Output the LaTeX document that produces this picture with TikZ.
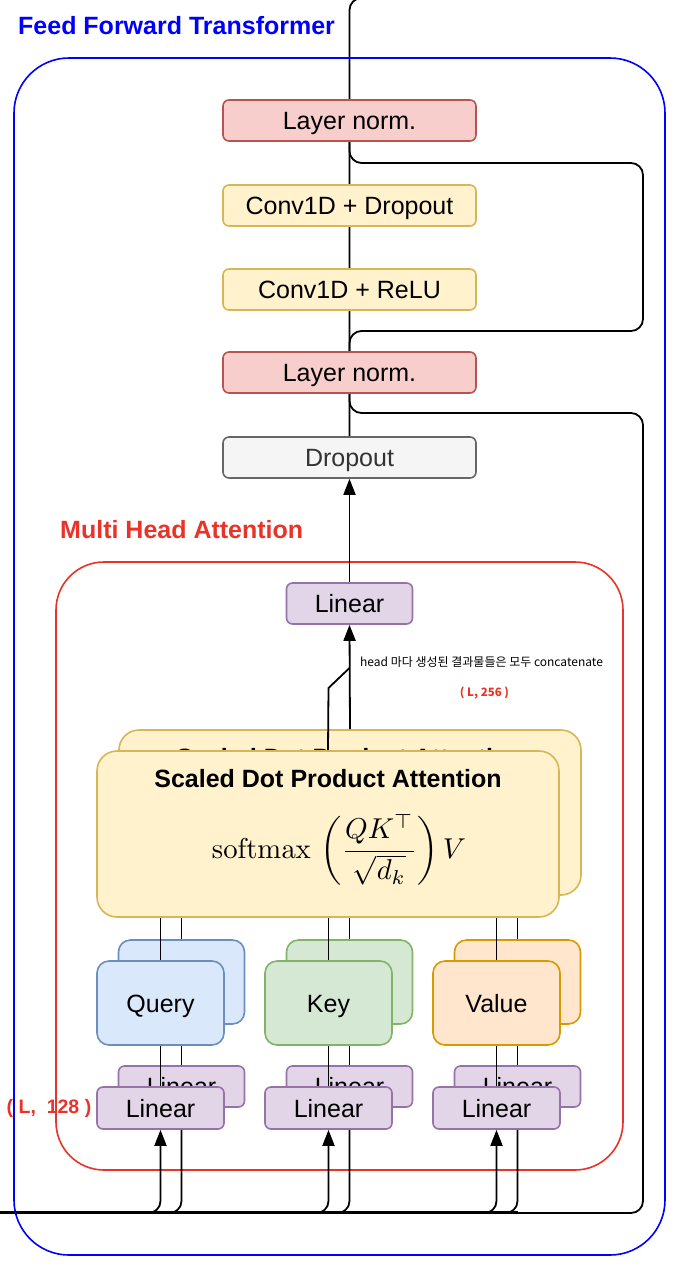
\documentclass[tikz,border=0pt]{standalone}
\usepackage{graphicx}
\usepackage[no-math]{fontspec}
\setmainfont{Liberation Sans}
\newfontfamily\krfont{Noto Sans CJK KR}
\usetikzlibrary{arrows.meta,backgrounds}
\definecolor{lnfill}{HTML}{F8CECC}\definecolor{lndraw}{HTML}{B85450}
\definecolor{yfill}{HTML}{FFF2CC}\definecolor{ydraw}{HTML}{D6B656}
\definecolor{gfill}{HTML}{F5F5F5}\definecolor{gdraw}{HTML}{666666}\definecolor{gtext}{HTML}{333333}
\definecolor{pfill}{HTML}{E1D5E7}\definecolor{pdraw}{HTML}{9673A6}
\definecolor{bfill}{HTML}{DAE8FC}\definecolor{bdraw}{HTML}{6C8EBF}
\definecolor{grfill}{HTML}{D5E8D4}\definecolor{grdraw}{HTML}{82B366}
\definecolor{ofill}{HTML}{FFE6CC}\definecolor{odraw}{HTML}{D79B00}
\definecolor{mhared}{HTML}{E93328}
\begin{document}
\begin{tikzpicture}[x=1pt,y=-1pt,line join=round,
  box/.style={draw,line width=1.6pt,rounded corners=6pt,inner sep=0pt,
    font=\fontsize{25}{28}\selectfont,text height=23.75pt,text depth=5.75pt,
    minimum width=253pt,minimum height=41pt},
  small/.style={box,minimum width=126pt},
  qkv/.style={box,minimum width=126pt,minimum height=84pt,rounded corners=12pt},
  sdpa/.style={box,minimum width=462pt,minimum height=165pt,rounded corners=20pt},
  lnbox/.style={fill=lnfill,draw=lndraw},
  ybox/.style={fill=yfill,draw=ydraw},
  pbox/.style={fill=pfill,draw=pdraw},
  conn/.style={draw=black,line width=1.8pt},
  arr/.style={-{Triangle[width=12pt,length=16pt]}},
  frame/.style={draw,line width=1.6pt,inner sep=0pt},
  title/.style={inner sep=0pt,font=\bfseries\fontsize{25}{28}\selectfont}
]
\useasboundingbox (0,0) rectangle (678,1272);
% containers
\node[frame,draw=blue,rounded corners=55pt,minimum width=651pt,minimum height=1197pt] (fft) at (339.5,656.5) {};
\node[frame,draw=mhared,rounded corners=48pt,minimum width=567pt,minimum height=608pt] (mha) at (339.5,866) {};
\node[title,anchor=west,text=blue] (fftt) at (18,26) {Feed Forward Transformer};
\node[title,anchor=west,text=mhared] (mhat) at (60,530) {Multi Head Attention};
% coordinates
\coordinate (bus) at (0,1213);
\coordinate (bus2) at (0,1211.5);
\coordinate (top) at (349.5,-2);
\coordinate (topr) at (700,-2);
\coordinate (kink) at (328.5,688);
\coordinate (kinkt) at (349.5,668);
\coordinate (r1a) at (349.5,331);
\coordinate (r1b) at (643,331);
\coordinate (r1c) at (643,163);
\coordinate (r1d) at (349.5,163);
\coordinate (r2a) at (349.5,413);
\coordinate (r2b) at (643,413);
\coordinate (r2c) at (643,1213);
% back boxes
\node[sdpa,ybox] (sdpab) at (350,812.5) {};
\node[title] (sdpabt) at (350,758) {Scaled Dot Product Attention};
\node[qkv,fill=bfill,draw=bdraw] (qb) at (181.5,982) {Query};
\node[qkv,fill=grfill,draw=grdraw] (kb) at (349.5,982) {Key};
\node[qkv,fill=ofill,draw=odraw] (vb) at (517.5,982) {Value};
\node[small,pbox] (lqb) at (181.5,1086.5) {Linear};
\node[small,pbox] (lkb) at (349.5,1086.5) {Linear};
\node[small,pbox] (lvb) at (517.5,1086.5) {Linear};
% main nodes
\node[box,lnbox] (ln1) at (349.5,120.5) {Layer norm.};
\node[box,ybox] (cdrop) at (349.5,205.5) {Conv1D + Dropout};
\node[box,ybox] (crelu) at (349.5,289.5) {Conv1D + ReLU};
\node[box,lnbox] (ln2) at (349.5,372.5) {Layer norm.};
\node[box,fill=gfill,draw=gdraw,text=gtext] (drop) at (349.5,457.5) {Dropout};
\node[small,pbox] (lint) at (349.5,603.5) {Linear};
% connectors behind the FFN boxes
\begin{scope}[on background layer]
\path[conn,rounded corners=12pt] (drop.north) -- (top) -- (topr);
\path[conn,rounded corners=12pt] (ln2.north) -- (r1a) -- (r1b) -- (r1c) -- (r1d) -- (ln1.south);
\path[conn,rounded corners=12pt] (ln2.south) -- (r2a) -- (r2b) -- (r2c) -- (bus);
\end{scope}
\path[conn] (bus2) -- (bus2 -| lvb);
\path[conn,arr] (lint.north) -- (drop.south);
\path[conn,arr] (sdpab.north) -- (lint.south);
% front boxes
\node[sdpa,ybox,minimum height=166pt] (sdpaf) at (328,834) {};
\path[conn] (sdpaf.north) -- (kink) -- (kinkt);
\node[title] (sdpaft) at (328,779) {Scaled Dot Product Attention};
\node[inner sep=0pt] (formula) at (339,850) {\scalebox{2.87}{$\displaystyle \mathrm{softmax}\,\left(\frac{QK^{\top}}{\sqrt{d_k}}\right)V$}};
\node[qkv,fill=bfill,draw=bdraw,minimum width=127pt] (qf) at (160.5,1003) {Query};
\node[qkv,fill=grfill,draw=grdraw,minimum width=127pt] (kf) at (328.5,1003) {Key};
\node[qkv,fill=ofill,draw=odraw,minimum width=127pt] (vf) at (496.5,1003) {Value};
\node[small,pbox,minimum width=127pt,minimum height=42pt] (lqf) at (160.5,1108) {Linear};
\node[small,pbox,minimum width=127pt,minimum height=42pt] (lkf) at (328.5,1108) {Linear};
\node[small,pbox,minimum width=127pt,minimum height=42pt] (lvf) at (496.5,1108) {Linear};
\foreach \n in {q,k,v}{
  \path[conn] (sdpaf.south -| \n f) -- (\n f.north);
  \path[conn] (sdpaf.south -| \n b) -- (\n b.north);
  \path[conn] (\n f.south) -- (l\n f.north);
  \path[conn] (\n f.south -| \n b) -- (l\n b.north);
  \path[conn,arr,rounded corners=12pt] ([xshift=-30pt]bus -| l\n f) -- (bus -| l\n f) -- (l\n f.south);
  \path[conn,rounded corners=12pt] (l\n f.south -| l\n b) -- (bus -| l\n b) -- ([xshift=-30pt]bus -| l\n b);
}
% annotations
\node[anchor=west,inner sep=0pt,font=\krfont\fontsize{12}{14}\selectfont] (note) at (360,662) {head 마다 생성된 결과물들은 모두 concatenate};
\node[inner sep=0pt,text=mhared,font=\krfont\bfseries\fontsize{11.5}{14}\selectfont] (dim256) at (484.5,693) {(\ L, 256\ )};
\node[inner sep=0pt,text=mhared,font=\bfseries\fontsize{19.5}{24}\selectfont] (dim128) at (49,1108) {(\ L,\ \ 128\ )};
\end{tikzpicture}
\end{document}
